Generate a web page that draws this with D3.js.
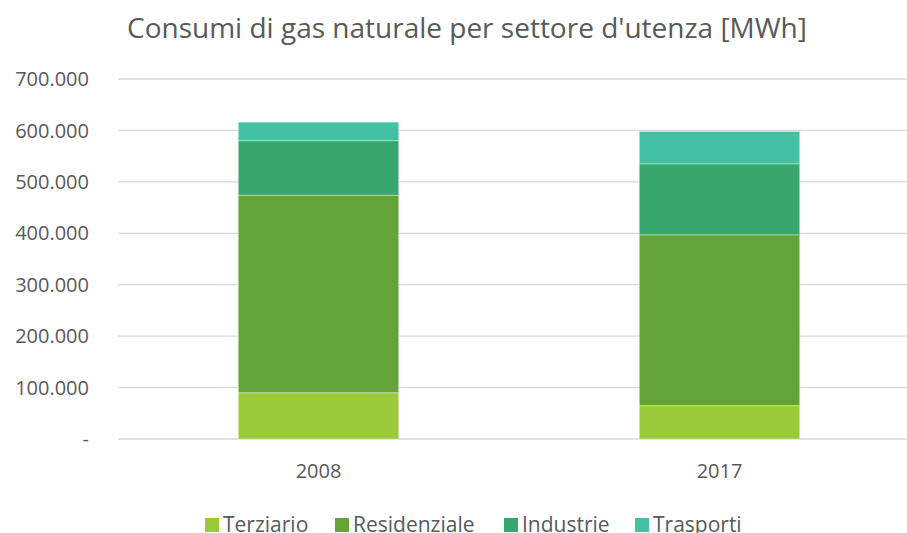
<!DOCTYPE html>
<html>
<head>
<meta charset="utf-8">
<script src="https://cdn.jsdelivr.net/npm/d3@7"></script>
<style>
  body { margin: 0; background: #fff; }
  text { font-family: "Open Sans", sans-serif; fill: #595959; }
</style>
</head>
<body>
<div id="container"></div>
<script>
// data

const years = ["2008", "2017"];
const sectors = ["Terziario", "Residenziale", "Industrie", "Trasporti"];
const terziario = [90000, 65000];
const residenziale = [384000, 332000];
const industrie = [106000, 138000];
const trasporti = [36000, 63000];
const yTicks = [0, 100000, 200000, 300000, 400000, 500000, 600000, 700000];

const colors = ["#9bcb3b", "#63a338", "#38a66f", "#44c1a3"];

const rows = years.map((y, i) => ({
  year: y,
  Terziario: terziario[i],
  Residenziale: residenziale[i],
  Industrie: industrie[i],
  Trasporti: trasporti[i]
}));

// variables

const width = 907;
const height = 533;

// scales

const xScale = d3.scaleBand()
  .domain(years)
  .range([118, 920])
  .paddingInner(0.6)
  .paddingOuter(0.3);

const yScale = d3.scaleLinear()
  .domain([0, 700000])
  .range([439, 79]);

const color = d3.scaleOrdinal().domain(sectors).range(colors);

const fmt = v => v === 0 ? "-" : d3.format(",")(v).replace(/,/g, ".");

// elements

const svg = d3.select("#container")
  .append("svg")
  .attr("width", width)
  .attr("height", height);

// title
svg.append("text")
  .attr("x", 467)
  .attr("y", 38)
  .attr("text-anchor", "middle")
  .style("font-size", "28px")
  .text("Consumi di gas naturale per settore d'utenza [MWh]");

// grid lines
svg.append("g")
  .selectAll("line")
  .data(yTicks)
  .join("line")
  .attr("x1", 118)
  .attr("x2", width)
  .attr("y1", d => yScale(d))
  .attr("y2", d => yScale(d))
  .attr("stroke", "#d9d9d9")
  .attr("stroke-width", 1.3);

// y labels
svg.append("g")
  .selectAll("text")
  .data(yTicks)
  .join("text")
  .attr("x", 89)
  .attr("y", d => yScale(d))
  .attr("dy", "0.36em")
  .attr("text-anchor", "end")
  .style("font-size", "20px")
  .text(fmt);

// stacked bars
const stacked = d3.stack().keys(sectors)(rows);

svg.append("g")
  .selectAll("g")
  .data(stacked)
  .join("g")
  .attr("fill", d => color(d.key))
  .selectAll("rect")
  .data(d => d)
  .join("rect")
  .attr("x", d => xScale(d.data.year))
  .attr("width", xScale.bandwidth())
  .attr("y", d => yScale(d[1]))
  .attr("height", d => yScale(d[0]) - yScale(d[1]))
  .attr("stroke", "rgba(255,255,255,0.35)")
  .attr("stroke-width", 1);

// x labels
svg.append("g")
  .selectAll("text")
  .data(years)
  .join("text")
  .attr("x", d => xScale(d) + xScale.bandwidth() / 2)
  .attr("y", 478)
  .attr("text-anchor", "middle")
  .style("font-size", "20px")
  .text(d => d);

// legend
const legendX = [223, 353, 522, 653];
const legend = svg.append("g")
  .selectAll("g")
  .data(sectors)
  .join("g")
  .attr("transform", (d, i) => `translate(${legendX[i]},532)`);

legend.append("rect")
  .attr("x", -18)
  .attr("y", -14)
  .attr("width", 14)
  .attr("height", 14)
  .attr("fill", d => color(d));

legend.append("text")
  .attr("x", 0)
  .attr("y", 0)
  .style("font-size", "21px")
  .text(d => d);
</script>
</body>
</html>
